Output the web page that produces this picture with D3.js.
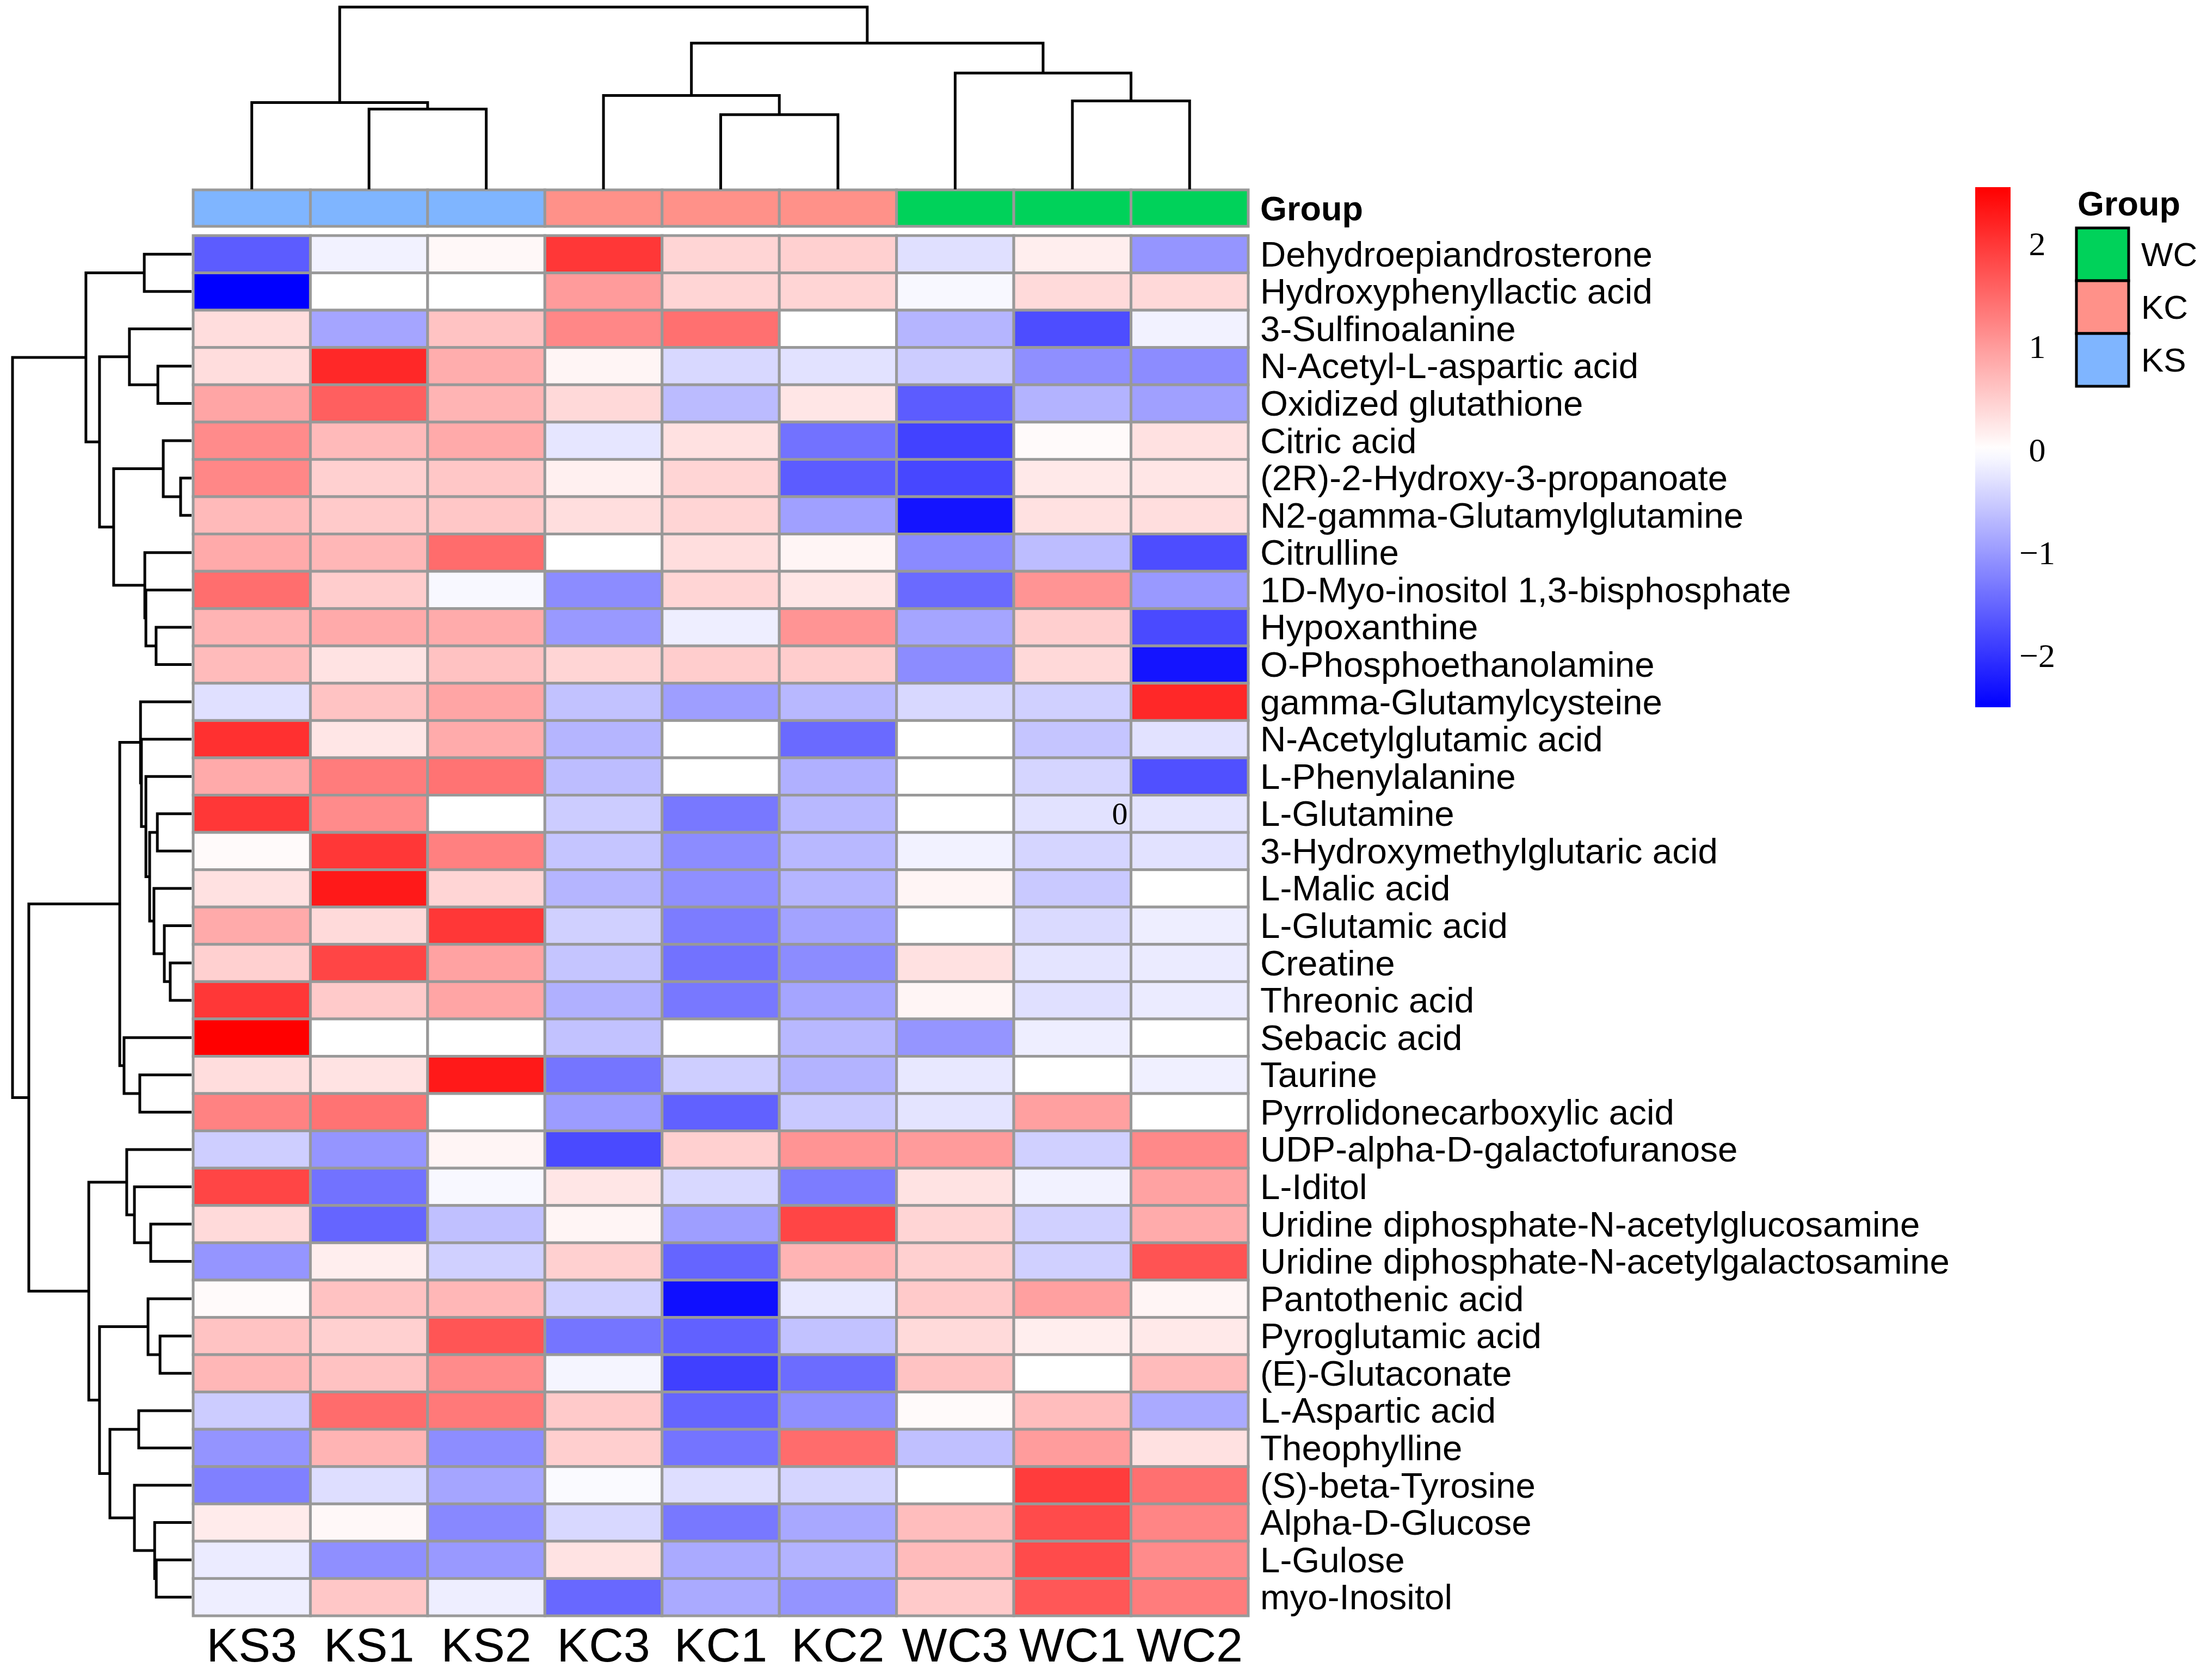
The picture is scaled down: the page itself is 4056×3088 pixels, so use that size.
<!DOCTYPE html>
<html><head><meta charset="utf-8">
<script src="https://cdn.jsdelivr.net/npm/d3@7"></script>
<style>body{margin:0;background:#fff}</style>
</head><body>
<svg id="chart" width="4056" height="3088" xmlns="http://www.w3.org/2000/svg"></svg>
<script>
// ---------------- DATA ----------------
const samples = ["KS3","KS1","KS2","KC3","KC1","KC2","WC3","WC1","WC2"];
const sampleGroups = ["KS","KS","KS","KC","KC","KC","WC","WC","WC"];
const groupNames = ["WC","KC","KS"];
const groupColors = ["#00D25A","#FF9189","#7FB5FF"];
const metabolites = [
  "Dehydroepiandrosterone","Hydroxyphenyllactic acid","3-Sulfinoalanine","N-Acetyl-L-aspartic acid",
  "Oxidized glutathione","Citric acid","(2R)-2-Hydroxy-3-propanoate","N2-gamma-Glutamylglutamine",
  "Citrulline","1D-Myo-inositol 1,3-bisphosphate","Hypoxanthine","O-Phosphoethanolamine",
  "gamma-Glutamylcysteine","N-Acetylglutamic acid","L-Phenylalanine","L-Glutamine",
  "3-Hydroxymethylglutaric acid","L-Malic acid","L-Glutamic acid","Creatine","Threonic acid",
  "Sebacic acid","Taurine","Pyrrolidonecarboxylic acid","UDP-alpha-D-galactofuranose","L-Iditol",
  "Uridine diphosphate-N-acetylglucosamine","Uridine diphosphate-N-acetylgalactosamine",
  "Pantothenic acid","Pyroglutamic acid","(E)-Glutaconate","L-Aspartic acid","Theophylline",
  "(S)-beta-Tyrosine","Alpha-D-Glucose","L-Gulose","myo-Inositol"
];
// z-scores, rows = metabolites, columns = samples (order above)
const values = [
  [-1.60,-0.13, 0.07, 2.00, 0.42, 0.47,-0.30, 0.17,-1.04],
  [-2.50, 0.00, 0.00, 1.00, 0.42, 0.42,-0.07, 0.37, 0.38],
  [ 0.34,-0.88, 0.60, 1.20, 1.43, 0.00,-0.73,-1.75,-0.13],
  [ 0.34, 2.15, 0.82, 0.10,-0.38,-0.28,-0.50,-1.10,-1.13],
  [ 0.90, 1.60, 0.75, 0.38,-0.67, 0.25,-1.60,-0.75,-0.93],
  [ 1.16, 0.69, 0.85,-0.25, 0.30,-1.38,-1.85, 0.05, 0.30],
  [ 1.20, 0.47, 0.56, 0.15, 0.42,-1.60,-1.80, 0.22, 0.25],
  [ 0.69, 0.53, 0.56, 0.33, 0.42,-0.93,-2.30, 0.30, 0.33],
  [ 0.85, 0.72, 1.47, 0.00, 0.33, 0.10,-1.15,-0.65,-1.75],
  [ 1.45, 0.50,-0.07,-1.13, 0.42, 0.25,-1.46, 1.07,-1.00],
  [ 0.75, 0.85, 0.84,-1.00,-0.17, 1.07,-0.88, 0.48,-1.77],
  [ 0.68, 0.28, 0.61, 0.42, 0.50, 0.50,-1.13, 0.38,-2.30],
  [-0.30, 0.60, 0.90,-0.60,-0.95,-0.70,-0.38,-0.46, 2.15],
  [ 2.07, 0.25, 0.84,-0.73, 0.00,-1.46, 0.00,-0.57,-0.28],
  [ 0.85, 1.31, 1.40,-0.65, 0.00,-0.77, 0.00,-0.41,-1.72],
  [ 2.00, 1.16, 0.00,-0.50,-1.32,-0.70, 0.00,-0.28,-0.26],
  [ 0.05, 2.00, 1.27,-0.57,-1.13,-0.70,-0.13,-0.41,-0.28],
  [ 0.30, 2.30, 0.42,-0.73,-1.10,-0.73, 0.10,-0.53, 0.00],
  [ 0.85, 0.37, 2.00,-0.46,-1.28,-0.90, 0.00,-0.36,-0.17],
  [ 0.47, 1.86, 0.93,-0.57,-1.38,-1.13, 0.30,-0.26,-0.20],
  [ 2.00, 0.53, 0.90,-0.77,-1.32,-0.88, 0.10,-0.30,-0.20],
  [ 2.55, 0.00, 0.00,-0.60, 0.00,-0.70,-1.04,-0.17, 0.00],
  [ 0.34, 0.28, 2.30,-1.35,-0.48,-0.75,-0.23, 0.00,-0.15],
  [ 1.25, 1.40, 0.00,-0.97,-1.55,-0.53,-0.26, 0.95, 0.00],
  [-0.48,-1.04, 0.10,-1.77, 0.47, 1.07, 1.00,-0.46, 1.18],
  [ 1.86,-1.38,-0.07, 0.25,-0.38,-1.28, 0.28,-0.13, 0.93],
  [ 0.37,-1.51,-0.62, 0.10,-0.95, 1.86, 0.42,-0.46, 0.84],
  [-1.04, 0.17,-0.46, 0.47,-1.51, 0.75, 0.47,-0.46, 1.72],
  [ 0.05, 0.61, 0.72,-0.46,-2.35,-0.23, 0.53, 0.95, 0.10],
  [ 0.60, 0.47, 1.70,-1.35,-1.55,-0.60, 0.37, 0.17, 0.22],
  [ 0.72, 0.61, 1.16,-0.10,-1.87,-1.44, 0.60, 0.00, 0.68],
  [-0.50, 1.47, 1.34, 0.53,-1.51,-1.10, 0.05, 0.66,-0.83],
  [-1.05, 0.75,-1.12, 0.48,-1.36, 1.47,-0.62, 0.99, 0.30],
  [-1.25,-0.32,-0.88,-0.05,-0.32,-0.41, 0.00, 1.95, 1.43],
  [ 0.20, 0.07,-1.17,-0.38,-1.32,-0.85, 0.66, 1.80, 1.22],
  [-0.20,-1.10,-1.00, 0.28,-0.83,-0.75, 0.68, 1.80, 1.16],
  [-0.17, 0.56,-0.17,-1.48,-0.83,-1.05, 0.53, 1.68, 1.31]
];
// hclust-style merges (negative = leaf index, 1-based in display order; positive = earlier merge)
const colMerges = [[-2,-3],[-1,1],[-5,-6],[-4,3],[-8,-9],[-7,5],[4,6],[2,7]];
const colHeights = [4.40,4.76,4.10,5.15,4.85,6.38,8.02,10.0];
const rowMerges = [
  [-1,-2],[-4,-5],[-3,2],[-7,-8],[-6,4],[-11,-12],[-10,6],[-9,7],[5,8],[3,9],[1,10],
  [-20,-21],[-19,12],[-18,13],[-16,-17],[15,14],[-15,16],[-14,17],[-13,18],
  [-23,-24],[-22,20],[19,21],
  [-27,-28],[-26,23],[-25,24],[-30,-31],[-29,26],[-32,-33],[-36,-37],[-35,29],[-34,30],
  [28,31],[27,32],[25,33],[22,34],[11,35]
];
const rowHeights = [
  2.64,1.88,3.47,0.61,1.58,1.98,2.55,2.61,4.35,5.14,5.90,
  1.19,1.52,2.10,1.91,2.34,2.55,2.80,2.85,
  2.89,3.77,4.01,
  2.28,3.19,3.62,1.76,2.43,2.95,1.97,2.06,3.19,
  4.56,5.14,5.74,9.09,10.0
];
const legendTicks = [2,1,0,-1,-2];
const legendTickLabels = ["2","1","0","\u22121","\u22122"];
const colorDomain = [-2.5, 0, 2.55];
const colorRange = ["#0000FF","#FFFFFF","#FF0000"];
const strayLabel = {row: "L-Glutamine", col: "WC1", text: "0"};

// ---------------- LAYOUT ----------------
const svg = d3.select("#chart");
svg.append("rect").attr("width",4056).attr("height",3088).attr("fill","#fff");

const hmLeft = 355, hmRight = 2294, hmTop = 433, hmBottom = 2970;
const x = d3.scaleBand().domain(samples).range([hmLeft, hmRight]);
const y = d3.scaleBand().domain(metabolites).range([hmTop, hmBottom]);
const color = d3.scaleLinear().domain(colorDomain).range(colorRange).clamp(true);
const gridColor = "#999999", gridW = 5;

// heatmap cells
const cells = [];
values.forEach((row, i) => row.forEach((v, j) => cells.push({r: metabolites[i], c: samples[j], v})));
svg.append("g").selectAll("rect").data(cells).join("rect")
  .attr("x", d => x(d.c)).attr("y", d => y(d.r))
  .attr("width", x.bandwidth()).attr("height", y.bandwidth())
  .attr("fill", d => color(d.v))
  .attr("stroke", gridColor).attr("stroke-width", gridW);

// annotation bar
const annTop = 349, annH = 67;
const gColor = d3.scaleOrdinal().domain(groupNames).range(groupColors);
svg.append("g").selectAll("rect").data(samples).join("rect")
  .attr("x", d => x(d)).attr("y", annTop)
  .attr("width", x.bandwidth()).attr("height", annH)
  .attr("fill", (d,i) => gColor(sampleGroups[i]))
  .attr("stroke", gridColor).attr("stroke-width", gridW);
svg.append("text").attr("x", 2316).attr("y", annTop + annH/2)
  .attr("dominant-baseline","central")
  .attr("font-family","Liberation Sans, Arial, sans-serif").attr("font-weight","bold")
  .attr("font-size", 63).text("Group");

// row labels
svg.append("g").selectAll("text").data(metabolites).join("text")
  .attr("x", 2316).attr("y", d => y(d) + y.bandwidth()/2)
  .attr("dominant-baseline","central")
  .attr("font-family","Liberation Sans, Arial, sans-serif")
  .attr("font-size", 65.5).text(d => d);

// column labels
svg.append("g").selectAll("text").data(samples).join("text")
  .attr("x", d => x(d) + x.bandwidth()/2).attr("y", 3054)
  .attr("text-anchor","middle")
  .attr("font-family","Liberation Sans, Arial, sans-serif")
  .attr("font-size", 88).text(d => d);

// stray label inside heatmap
svg.append("text")
  .attr("x", x(strayLabel.col) + x.bandwidth() - 6)
  .attr("y", y(strayLabel.row) + y.bandwidth()/2)
  .attr("dominant-baseline","central").attr("text-anchor","end")
  .attr("font-family","Liberation Serif, Times New Roman, serif")
  .attr("font-size", 58).text(strayLabel.text);

// ---------------- DENDROGRAMS ----------------
function buildSegs(merges, heights) {
  const nodes = [];
  const get = i => i < 0 ? {pos: -i - 1, h: 0} : nodes[i - 1];
  return merges.map((m, k) => {
    const a = get(m[0]), b = get(m[1]), h = heights[k];
    nodes.push({pos: (a.pos + b.pos) / 2, h});
    return {a, b, h};
  });
}
// column dendrogram
const colPos = d3.scaleLinear().domain([-0.5, samples.length - 0.5]).range([hmLeft, hmRight]);
const colH = d3.scaleLinear().domain([0, d3.max(colHeights)]).range([348, 13]);
svg.append("g").selectAll("path").data(buildSegs(colMerges, colHeights)).join("path")
  .attr("d", s => `M${colPos(s.a.pos)},${colH(s.a.h)}V${colH(s.h)}H${colPos(s.b.pos)}V${colH(s.b.h)}`)
  .attr("fill","none").attr("stroke","#000").attr("stroke-width",5);
// row dendrogram
const rowPos = d3.scaleLinear().domain([-0.5, metabolites.length - 0.5]).range([hmTop, hmBottom]);
const rowH = d3.scaleLinear().domain([0, d3.max(rowHeights)]).range([352, 23]);
svg.append("g").selectAll("path").data(buildSegs(rowMerges, rowHeights)).join("path")
  .attr("d", s => `M${rowH(s.a.h)},${rowPos(s.a.pos)}H${rowH(s.h)}V${rowPos(s.b.pos)}H${rowH(s.b.h)}`)
  .attr("fill","none").attr("stroke","#000").attr("stroke-width",5);

// ---------------- COLOR LEGEND ----------------
const lgX = 3630, lgW = 65, lgTop = 344, lgBottom = 1300;
const lgScale = d3.scaleLinear().domain([colorDomain[0], colorDomain[2]]).range([lgBottom, lgTop]);
const defs = svg.append("defs");
const grad = defs.append("linearGradient").attr("id","cbar")
  .attr("x1","0").attr("y1","1").attr("x2","0").attr("y2","0");
d3.range(0, 1.0001, 0.02).forEach(t => {
  const v = colorDomain[0] + t * (colorDomain[2] - colorDomain[0]);
  grad.append("stop").attr("offset", t).attr("stop-color", color(v));
});
svg.append("rect").attr("x", lgX).attr("y", lgTop).attr("width", lgW).attr("height", lgBottom - lgTop)
  .attr("fill","url(#cbar)");
svg.append("g").selectAll("text").data(legendTicks).join("text")
  .attr("x", 3744).attr("y", d => lgScale(d))
  .attr("text-anchor","middle").attr("dominant-baseline","central")
  .attr("font-family","Liberation Serif, Times New Roman, serif")
  .attr("font-size", 62).text((d,i) => legendTickLabels[i]);

// ---------------- GROUP LEGEND ----------------
svg.append("text").attr("x", 3818).attr("y", 374)
  .attr("dominant-baseline","central")
  .attr("font-family","Liberation Sans, Arial, sans-serif").attr("font-weight","bold")
  .attr("font-size", 63).text("Group");
const boxY = d3.scaleBand().domain(groupNames).range([419, 710]);
svg.append("g").selectAll("rect").data(groupNames).join("rect")
  .attr("x", 3816).attr("y", d => boxY(d)).attr("width", 96).attr("height", boxY.bandwidth())
  .attr("fill", d => gColor(d)).attr("stroke","#000").attr("stroke-width",5);
svg.append("g").selectAll("text").data(groupNames).join("text")
  .attr("x", 3935).attr("y", d => boxY(d) + boxY.bandwidth()/2)
  .attr("dominant-baseline","central")
  .attr("font-family","Liberation Sans, Arial, sans-serif")
  .attr("font-size", 62).text(d => d);
</script>
</body></html>
